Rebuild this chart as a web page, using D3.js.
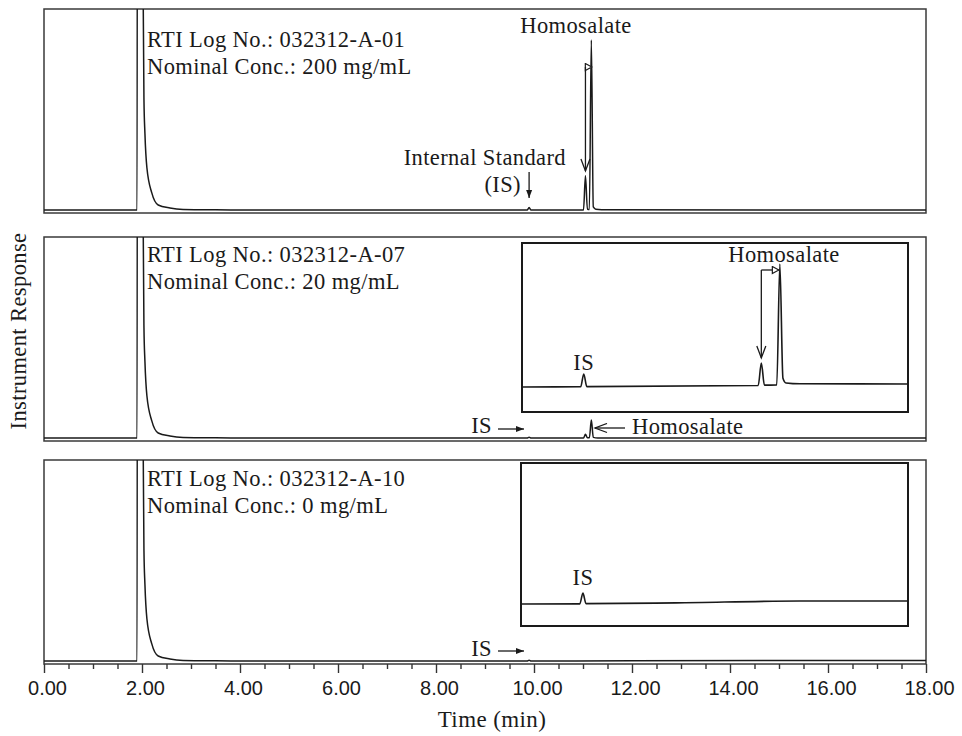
<!DOCTYPE html>
<html lang="en">
<head>
<meta charset="UTF-8">
<title>Homosalate chromatograms</title>
<script src="https://d3js.org/d3.v7.min.js"></script>
<style>
  body { margin: 0; background: #fff; }
  text { fill: #1a1a1a; }
  .serif { font-family: "Liberation Serif", "Times New Roman", serif; font-size: 22.5px; letter-spacing: 0.4px; }
  .tick text { font-family: "Liberation Sans", Arial, sans-serif; font-size: 20px; fill: #1a1a1a; }
  .tick line { stroke: #333; stroke-width: 1.4; }
</style>
</head>
<body>
<script>
const width = 962
const height = 736

// x axis ticks (min)
const xTicks = [0, 2, 4, 6, 8, 10, 12, 14, 16, 18]

const labels01 = ["RTI Log No.: 032312-A-01", "Nominal Conc.: 200 mg/mL"]
const labels07 = ["RTI Log No.: 032312-A-07", "Nominal Conc.: 20 mg/mL"]
const labels10 = ["RTI Log No.: 032312-A-10", "Nominal Conc.: 0 mg/mL"]

// solvent front, same for every run  [time, response]
const solvent = [[0, 0], [1.90, 0], [1.91, 400], [2.01, 400], [2.02, 120], [2.04, 55], [2.06, 38],
    [2.10, 21], [2.20, 8.5], [2.33, 2.5], [2.57, 1.0], [2.84, 0.3], [3.5, 0.1], [4.5, 0]]
// IS (9.9 min) and homosalate (11.05 / 11.17 min)
const run01 = [[9.86, 0], [9.90, 1.2], [9.94, 0], [11.01, 0], [11.05, 17], [11.09, 0.4], [11.13, 0.3],
    [11.17, 84.6], [11.21, 1.5], [11.26, 0.4], [11.5, 0.1], [18, 0]]
const run07 = [[9.86, 0], [9.90, 0.4], [9.94, 0], [11.01, 0], [11.05, 1.8], [11.09, 0.1], [11.13, 0.1],
    [11.17, 8.9], [11.21, 0.3], [11.3, 0], [18, 0]]
const run10 = [[9.86, 0], [9.90, 0.4], [9.94, 0], [12, 0.1], [18, 0.3]]

// zoomed views, 9.5 - 12 min
const inset07 = [[9.5, 14.8], [9.88, 14.9], [9.90, 22.5], [9.92, 15], [11.03, 15.7], [11.05, 29],
    [11.07, 15.9], [11.15, 16], [11.17, 87.6], [11.19, 20], [11.21, 17.2], [11.3, 16.7], [12, 16.6]]
const inset10 = [[9.5, 13.5], [9.88, 13.6], [9.90, 20.2], [9.92, 13.7], [10.5, 14.2], [11.3, 15.3], [12, 15.3]]

const svg = d3.select("body").append("svg")
    .attr("width", width).attr("height", height)

const defs = svg.append("defs")
defs.append("marker").attr("id", "solid")
    .attr("markerUnits", "userSpaceOnUse")
    .attr("markerWidth", 9).attr("markerHeight", 7)
    .attr("refX", 8).attr("refY", 3.5).attr("orient", "auto")
    .append("path").attr("d", "M0,0.5 L8,3.5 L0,6.5 z").attr("fill", "#1a1a1a")
defs.append("marker").attr("id", "vee")
    .attr("markerUnits", "userSpaceOnUse")
    .attr("markerWidth", 15).attr("markerHeight", 11)
    .attr("refX", 13).attr("refY", 5.5).attr("orient", "auto")
    .append("path").attr("d", "M1,1 L13,5.5 L1,10").attr("fill", "none")
    .attr("stroke", "#1a1a1a").attr("stroke-width", 1.3)
defs.append("marker").attr("id", "tri")
    .attr("markerUnits", "userSpaceOnUse")
    .attr("markerWidth", 9).attr("markerHeight", 9)
    .attr("refX", 7.5).attr("refY", 4.5).attr("orient", "auto")
    .append("path").attr("d", "M1,1 L7.5,4.5 L1,8 z").attr("fill", "#fff")
    .attr("stroke", "#1a1a1a").attr("stroke-width", 1.2)

const x = d3.scaleLinear().domain([0, 18]).range([44, 926])
const panelH = 204

const panels = [
    {top: 9, trace: solvent.concat(run01), labels: labels01, textY: 47},
    {top: 237, trace: solvent.concat(run07), labels: labels07, textY: 262},
    {top: 460, trace: solvent.concat(run10), labels: labels10, textY: 486}
]

function arrow(g, pts, marker) {
    g.append("path")
        .attr("d", d3.line()(pts))
        .attr("fill", "none").attr("stroke", "#1a1a1a").attr("stroke-width", 1.3)
        .attr("marker-end", `url(#${marker})`)
}

panels.forEach((p, i) => {
    const y = d3.scaleLinear().domain([-1.5, 100]).range([p.top + panelH, p.top])
    const g = svg.append("g")
    g.append("clipPath").attr("id", "clip" + i)
        .append("rect").attr("x", 44).attr("y", p.top).attr("width", 882).attr("height", panelH)
    g.append("rect").attr("x", 44).attr("y", p.top).attr("width", 882).attr("height", panelH)
        .attr("fill", "none").attr("stroke", "#3a3a3a").attr("stroke-width", 1.5)
    g.append("path").datum(p.trace)
        .attr("clip-path", `url(#clip${i})`)
        .attr("d", d3.line().x(d => x(d[0])).y(d => y(d[1])).curve(d3.curveMonotoneX))
        .attr("fill", "none").attr("stroke", "#1a1a1a").attr("stroke-width", 1.5)
    g.selectAll(".lbl").data(p.labels).enter().append("text")
        .attr("class", "serif")
        .attr("x", 147).attr("y", (d, j) => p.textY + j * 27)
        .text(d => d)
    p.y = y
    p.g = g
})

// top panel annotations
{
    const g = panels[0].g
    g.append("text").attr("class", "serif").attr("x", 576).attr("y", 33)
        .attr("text-anchor", "middle").text("Homosalate")
    arrow(g, [[x(11.05), 67], [x(11.17) + 0.5, 67]], "tri")
    arrow(g, [[x(11.05), 67], [x(11.05), 171]], "vee")
    g.append("text").attr("class", "serif").attr("x", 566).attr("y", 165)
        .attr("text-anchor", "end").text("Internal Standard")
    g.append("text").attr("class", "serif").attr("x", 521).attr("y", 192)
        .attr("text-anchor", "end").text("(IS)")
    arrow(g, [[x(9.9), 172], [x(9.9), 198]], "solid")
}

// middle panel annotations
{
    const g = panels[1].g
    g.append("text").attr("class", "serif").attr("x", 492).attr("y", 433)
        .attr("text-anchor", "end").text("IS")
    arrow(g, [[498, 429], [524, 429]], "solid")
    arrow(g, [[625, 428], [595, 428]], "vee")
    g.append("text").attr("class", "serif").attr("x", 632).attr("y", 434).text("Homosalate")
}

// bottom panel annotations
{
    const g = panels[2].g
    g.append("text").attr("class", "serif").attr("x", 492).attr("y", 656)
        .attr("text-anchor", "end").text("IS")
    arrow(g, [[498, 651], [524, 651]], "solid")
}

// insets
const insets = [
    {x: 522, y: 243, w: 386, h: 169, trace: inset07, isY: 370},
    {x: 521, y: 463, w: 387, h: 163, trace: inset10, isY: 585}
]
insets.forEach((b, i) => {
    const xi = d3.scaleLinear().domain([9.5, 12]).range([b.x, b.x + b.w])
    const yi = d3.scaleLinear().domain([0, 100]).range([b.y + b.h, b.y])
    const g = svg.append("g")
    g.append("rect").attr("x", b.x).attr("y", b.y).attr("width", b.w).attr("height", b.h)
        .attr("fill", "#fff").attr("stroke", "#1a1a1a").attr("stroke-width", 2)
    g.append("path").datum(b.trace)
        .attr("d", d3.line().x(d => xi(d[0])).y(d => yi(d[1])).curve(d3.curveMonotoneX))
        .attr("fill", "none").attr("stroke", "#1a1a1a").attr("stroke-width", 1.6)
    g.append("text").attr("class", "serif").attr("x", xi(9.9)).attr("y", b.isY)
        .attr("text-anchor", "middle").text("IS")
    if (i === 0) {
        g.append("text").attr("class", "serif").attr("x", 784).attr("y", 262)
            .attr("text-anchor", "middle").text("Homosalate")
        arrow(g, [[xi(11.05), 270], [xi(11.17) - 1, 270]], "tri")
        arrow(g, [[xi(11.05), 270], [xi(11.05), 358]], "vee")
    }
})

// x axis
const axisY = 664
svg.append("g").attr("transform", `translate(0,${axisY})`)
    .call(d3.axisBottom(x).tickValues(d3.range(0, 18.01, 0.5).filter(d => d % 2 !== 0))
        .tickSize(5).tickFormat(""))
    .call(a => a.select(".domain").remove())
svg.append("g").attr("transform", `translate(0,${axisY})`)
    .call(d3.axisBottom(x).tickValues(xTicks).tickSize(9).tickPadding(8)
        .tickFormat(d3.format(".2f")))
    .call(a => a.select(".domain").remove())
    .call(a => a.selectAll("text").attr("dx", 3))

svg.append("text").attr("class", "serif").style("font-size", "23px")
    .attr("x", 492).attr("y", 727).attr("text-anchor", "middle").text("Time (min)")

svg.append("text").attr("class", "serif")
    .attr("transform", "translate(26,331) rotate(-90)")
    .attr("text-anchor", "middle").text("Instrument Response")
</script>
</body>
</html>
